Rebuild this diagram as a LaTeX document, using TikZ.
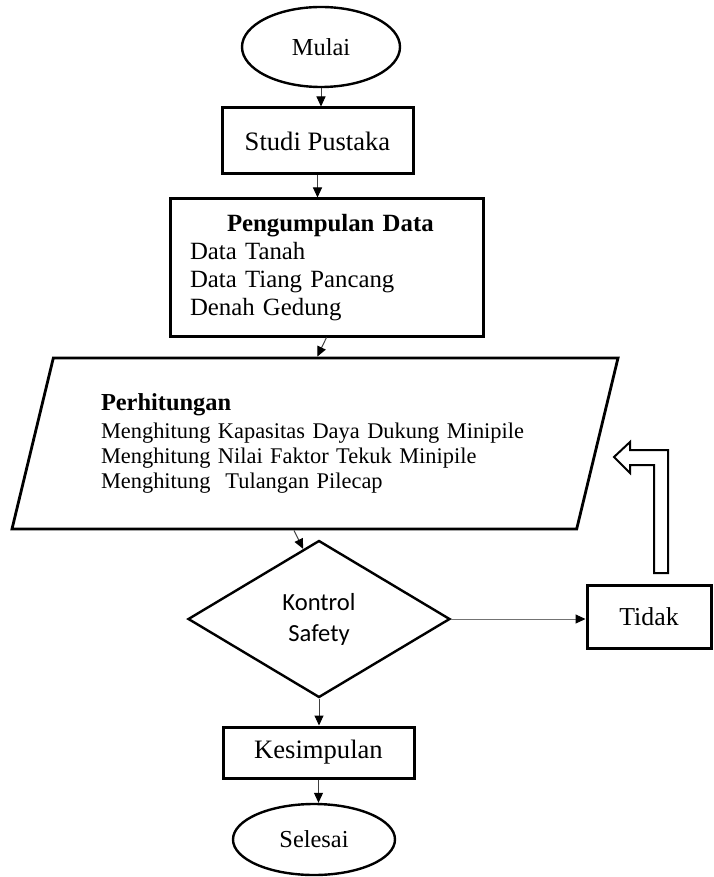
\documentclass[tikz,border=0pt]{standalone}
\usepackage{fontspec}
\setmainfont{Liberation Serif}
\newfontfamily\calibrifont{Carlito}
\usetikzlibrary{arrows.meta,shapes.geometric,calc}

\begin{document}
\begin{tikzpicture}[
  x=0.5pt, y=-0.5pt,
  term/.style={draw, ellipse, line width=1.2pt, inner sep=0pt, font=\fontsize{12.2}{14}\selectfont},
  proc/.style={draw, rectangle, line width=1.5pt, inner sep=0pt, font=\fontsize{13.3}{15}\selectfont},
  io/.style={draw, trapezium, trapezium left angle=67.5, trapezium right angle=112.5,
    trapezium stretches body=true, line width=1.4pt, inner sep=0pt},
  decide/.style={draw, diamond, line width=1.2pt, inner sep=0pt, align=center,
    font=\calibrifont\fontsize{12.3}{15.5}\selectfont},
  arr/.style={-{Triangle[length=5pt,width=4.5pt,black]}, line width=0.5pt, draw=black!75}
]
  \useasboundingbox (0,0) rectangle (713,877);

  % Start, literature and data
  \node[term, minimum width=79pt, minimum height=40pt] (mulai) at (321,47) {Mulai};
  \node[proc, minimum width=95.5pt, minimum height=33pt] (studi) at (317.5,141) {Studi Pustaka};
  \node[proc, minimum width=156.5pt, minimum height=68.5pt, text width=136.5pt,
    inner xsep=10pt, align=left, font=\fontsize{12.4}{14}\selectfont]
    (data) at (326.5,267.5)
    {\hspace*{18.5pt}\textbf{Pengumpulan Data}\\Data Tanah\\Data Tiang Pancang\\Denah Gedung};

  % Calculation (parallelogram)
  \node[io, minimum width=303pt, minimum height=85.5pt, text width=214pt, align=left,
    font=\fontsize{11.2}{12.5}\selectfont]
    (hitung) at (315,443.5)
    {{\fontsize{12.2}{14}\selectfont\bfseries Perhitungan}\\[1.5pt]
     Menghitung Kapasitas Daya Dukung Minipile\\
     Menghitung Nilai Faktor Tekuk Minipile\\
     Menghitung\ \ Tulangan Pilecap};

  % Check and result
  \node[decide, minimum width=131pt, minimum height=78.5pt, aspect=1.67]
    (cek) at (319,619) {Kontrol\\Safety};
  \node[proc, minimum width=62pt, minimum height=31.5pt, font=\fontsize{12.9}{15}\selectfont]
    (tidak) at (649,616.5) {Tidak};
  \node[proc, minimum width=95.5pt, minimum height=25.5pt] (simpul) at (318.5,752.5) {Kesimpulan};
  \node[term, minimum width=81pt, minimum height=35.5pt] (selesai) at (314,839.5) {Selesai};

  % Flow
  \draw[arr] (mulai.south) -- (mulai.south |- studi.north);
  \draw[arr] (studi.south) -- (studi.south |- data.north);
  \draw[arr] (data.south) -- ($(hitung.top left corner)!0.467!(hitung.top right corner)$);
  \draw[arr] (hitung.bottom side) -- ($(cek.north)!0.12!(cek.west)$);
  \draw[arr, draw=black!55] (cek.east) -- (cek.east -| tidak.west);
  \draw[arr] (cek.south) -- (cek.south |- simpul.north);
  \draw[arr] (simpul.south) -- (simpul.south |- selesai.north);

  % Back to calculation (hollow arrow)
  \draw[line width=1pt, fill=white]
    (614,457) -- (630,442) -- (630,450) -- (668,450) -- (668,573) -- (654,573)
    -- (654,465) -- (630,465) -- (630,473) -- cycle;
\end{tikzpicture}
\end{document}
